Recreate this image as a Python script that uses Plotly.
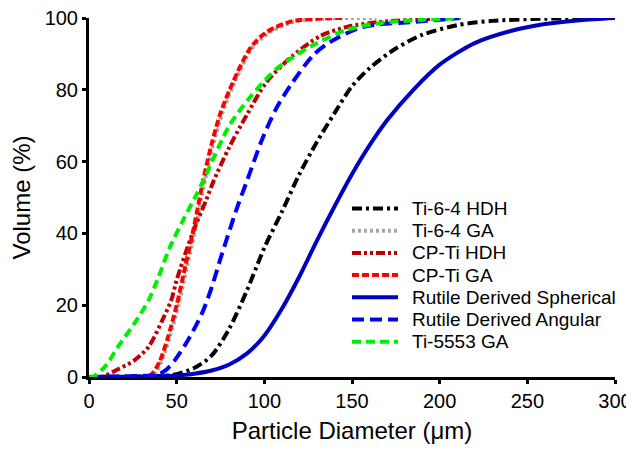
import plotly.graph_objects as go

# ---- data ----
ti64_hdh_x = [0, 20, 40, 50, 60, 70, 80, 90, 100, 110, 120, 130, 140, 150, 160, 175, 190, 210, 230, 260, 300]
ti64_hdh_y = [0, 0.1, 0.3, 0.8, 2.5, 6, 13.5, 24, 36, 46, 56.5, 65.5, 73.5, 81, 86, 91.5, 95.3, 98, 99.2, 99.8, 100]

ti64_ga_x = [0, 32, 37, 41, 46, 51, 56, 61, 66, 71, 76, 83, 93, 103, 117, 135, 150, 164]
ti64_ga_y = [0, 0, 0.5, 4, 11, 20, 31, 42, 54.5, 65, 73.5, 82, 91.6, 96, 99, 99.8, 100, 100]

cpti_hdh_x = [0, 7, 16, 26, 34, 42, 47, 50, 59, 67, 71, 80, 90, 101, 115, 132, 147, 166, 190, 212]
cpti_hdh_y = [0, 0, 2, 4.7, 8.4, 16, 21.5, 27, 40, 49.5, 54.5, 64, 73, 82, 89, 95, 97.5, 98.9, 99.6, 100]

cpti_ga_x = [0, 30, 35, 40, 45, 50, 55, 60, 65, 70, 75, 82, 92, 101, 115, 130, 145]
cpti_ga_y = [0, 0, 0.5, 4, 11, 20, 31, 42, 54.5, 65, 73.5, 82, 91.6, 96, 99, 99.8, 100]

rut_sph_x = [0, 40, 50, 60, 70, 80, 90, 100, 110, 120, 130, 140, 150, 160, 170, 185, 200, 220, 240, 260, 280, 300]
rut_sph_y = [0, 0.2, 0.4, 0.9, 1.8, 3.5, 6.5, 11.5, 19, 28, 38, 47.5, 56.5, 64.5, 71.5, 80, 87, 93, 96.3, 98.3, 99.4, 100]

rut_ang_x = [0, 30, 39, 44, 49, 56.5, 64.5, 70, 75, 84, 90, 99, 107, 116, 128, 137.5, 156, 185, 212]
rut_ang_y = [0, 0.3, 0.6, 2, 4.7, 10.3, 17.8, 25, 33, 46.5, 54.5, 66.5, 75, 82, 89.7, 93.3, 97.5, 98.9, 100]

ti5553_x = [0, 2, 9, 16.5, 26, 34, 39, 46, 54, 61.5, 66, 80, 92, 103, 110, 128, 147, 166, 190, 212]
ti5553_y = [0, 0, 2.8, 8.4, 15, 21.4, 27, 36, 44, 51, 55.5, 70, 78, 84, 87, 92.5, 96.7, 98.6, 99.5, 100]

x_ticks = [0, 50, 100, 150, 200, 250, 300]
y_ticks = [0, 20, 40, 60, 80, 100]

series = [
    ("Ti-6-4 HDH", ti64_hdh_x, ti64_hdh_y, "#000000", "10px,4px,3px,4px"),
    ("Ti-6-4 GA", ti64_ga_x, ti64_ga_y, "#A6A6A6", "3px,3px"),
    ("CP-Ti HDH", cpti_hdh_x, cpti_hdh_y, "#C00000", "9px,3px,3px,3px,3px,3px"),
    ("CP-Ti GA", cpti_ga_x, cpti_ga_y, "#FF0000", "7px,3px"),
    ("Rutile Derived Spherical", rut_sph_x, rut_sph_y, "#0000C0", "solid"),
    ("Rutile Derived Angular", rut_ang_x, rut_ang_y, "#0000FF", "12px,6px"),
    ("Ti-5553 GA", ti5553_x, ti5553_y, "#00EE00", "9px,5px"),
]

FONT = "Arial, Liberation Sans, sans-serif"
OFF = 8  # default page body margin
W, H = 634 - OFF, 450 - OFF
ML, MR, MT, MB = 89 - OFF, 19, 18 - OFF, 73
PW, PH = W - ML - MR, H - MT - MB

fig = go.Figure()
for name, xs, ys, color, dash in series:
    fig.add_trace(go.Scatter(
        x=xs, y=ys, name=name, mode="lines", showlegend=False,
        line=dict(color=color, width=4, dash=dash, shape="spline", smoothing=0.8),
        cliponaxis=False,
    ))

# custom legend (line samples + labels) in paper coordinates
leg_x0, leg_x1, leg_tx = 352 - OFF, 398 - OFF, 410 - OFF
leg_y0, leg_dy = 208.5 - OFF, 22.2
shapes, annots = [], []
for i, (name, xs, ys, color, dash) in enumerate(series):
    py = leg_y0 + i * leg_dy
    yp = 1 - (py - MT) / PH
    shapes.append(dict(type="line", xref="paper", yref="paper",
                       x0=(leg_x0 - ML) / PW, x1=(leg_x1 - ML) / PW, y0=yp, y1=yp,
                       line=dict(color=color, width=4, dash=dash)))
    annots.append(dict(xref="paper", yref="paper", x=(leg_tx - ML) / PW, y=yp,
                       xanchor="left", yanchor="middle", text=name, showarrow=False,
                       font=dict(size=19, family=FONT, color="black")))

fig.update_layout(
    width=W, height=H,
    margin=dict(l=ML, r=MR, t=MT, b=MB),
    paper_bgcolor="white", plot_bgcolor="white",
    font=dict(family=FONT, color="black", size=20),
    showlegend=False,
    shapes=shapes, annotations=annots,
    xaxis=dict(range=[0, 300], tickvals=x_ticks, showgrid=False, zeroline=False,
               showline=True, linecolor="black", linewidth=3, automargin=False,
               ticks="outside", ticklen=4, tickwidth=3, tickcolor="black",
               tickfont=dict(size=20), ticklabeloverflow="allow",
               title=dict(text="Particle Diameter (\u03bcm)", font=dict(size=24), standoff=12)),
    yaxis=dict(range=[0, 100], tickvals=y_ticks, showgrid=False, zeroline=False,
               showline=True, linecolor="black", linewidth=3, automargin=False,
               ticks="outside", ticklen=4, tickwidth=3, tickcolor="black",
               tickfont=dict(size=20), ticklabeloverflow="allow",
               title=dict(text="Volume (%)", font=dict(size=24), standoff=12)),
)

fig.write_html("out.html")
